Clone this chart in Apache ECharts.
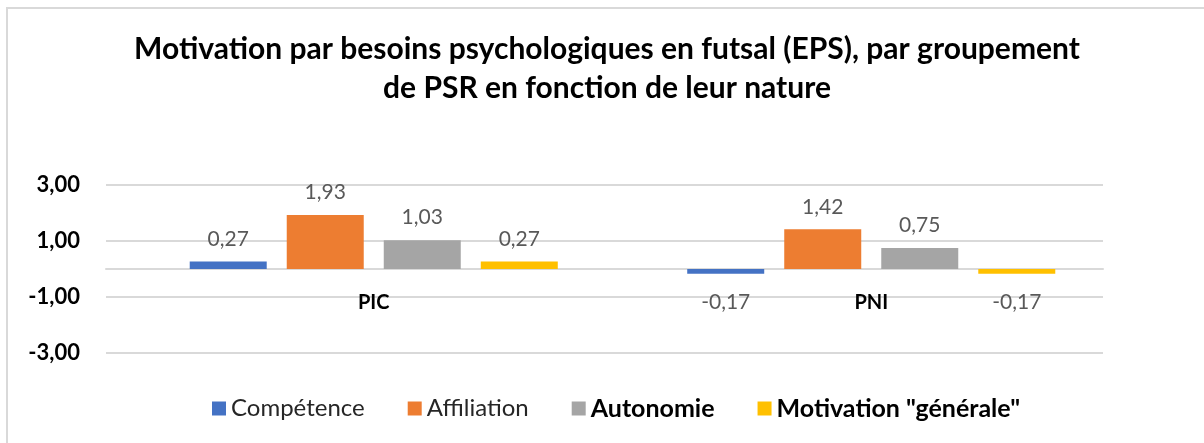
<!DOCTYPE html>
<html>
<head>
<meta charset="utf-8">
<script src="https://cdn.jsdelivr.net/npm/echarts@6/dist/echarts.min.js"></script>
<style>html,body{margin:0;padding:0;background:#fff}#c{width:1204px;height:443px}</style>
</head>
<body>
<div id="c"></div>
<script>
const titleText = 'Motivation par besoins psychologiques en futsal (EPS), par groupement\nde PSR en fonction de leur nature';
const categories = ['PIC', 'PNI'];
const seriesNames = ['Compétence', 'Affiliation', 'Autonomie', 'Motivation "générale"'];
const competence = [0.27, -0.17];
const affiliation = [1.93, 1.42];
const autonomie = [1.03, 0.75];
const motivationGenerale = [0.27, -0.17];
const yTicks = [-3, -1, 1, 3];
const colors = ['#4472C4', '#ED7D31', '#A5A5A5', '#FFC000'];
const boldLegend = ['Autonomie', 'Motivation "générale"'];

const FONT = 'Lato, "Open Sans", sans-serif';
const chart = echarts.init(document.getElementById('c'));
const allValues = [competence, affiliation, autonomie, motivationGenerale];

function fmt(v) { return v.toFixed(2).replace('.', ','); }

const series = allValues.map((vals, i) => ({
  name: seriesNames[i],
  type: 'bar',
  xAxisIndex: 1,
  yAxisIndex: 1,
  barWidth: 77,
  barGap: '26%',
  itemStyle: { color: colors[i] },
  data: vals.map(v => ({
    value: v,
    label: {
      show: true,
      position: v >= 0 ? 'top' : 'bottom',
      distance: v >= 0 ? 12 : 18,
      formatter: p => fmt(p.value),
      fontFamily: FONT,
      fontSize: 21,
      color: '#595959'
    }
  }))
}));

chart.setOption({
  animation: false,
  backgroundColor: '#fff',
  graphic: [
    {
      type: 'rect',
      shape: { x: 7, y: 8, width: 1300, height: 500 },
      style: { fill: 'none', stroke: '#d9d9d9', lineWidth: 2 },
      silent: true, z: -1
    },
    {
      type: 'text',
      x: 607, y: 30,
      style: {
        text: titleText,
        align: 'center',
        verticalAlign: 'top',
        fontFamily: FONT, fontWeight: 'bold', fontSize: 30, lineHeight: 39, fill: '#000'
      }
    }
  ],
  legend: {
    bottom: 17,
    left: 207,
    itemWidth: 14,
    itemHeight: 14,
    itemGap: 43,
    icon: 'rect',
    data: seriesNames,
    formatter: n => boldLegend.includes(n) ? '{b|' + n + '}' : '{r|' + n + '}',
    textStyle: {
      fontFamily: FONT, fontSize: 24, color: '#000',
      rich: {
        r: { fontFamily: FONT, fontSize: 24, color: '#262626' },
        b: { fontFamily: FONT, fontSize: 25, fontWeight: 'bold', color: '#000' }
      }
    }
  },
  grid: [
    { left: 106, right: 101, top: 185, height: 168 },
    { left: 125, right: 84, top: 185, height: 168 }
  ],
  xAxis: [
    {
      type: 'category', gridIndex: 0, data: [''],
      axisLine: { show: true, onZero: true, lineStyle: { color: '#d9d9d9', width: 2 } },
      axisTick: { show: false }, axisLabel: { show: false }
    },
    {
      type: 'category', gridIndex: 1, data: categories,
      position: 'bottom', offset: -84,
      axisLine: { show: false, onZero: false }, axisTick: { show: false },
      axisLabel: { fontFamily: FONT, fontWeight: 'bold', fontSize: 20, color: '#000', margin: 24 }
    }
  ],
  yAxis: [
    {
      type: 'value', gridIndex: 0, min: yTicks[0], max: yTicks[yTicks.length - 1], interval: 2,
      axisLine: { show: false }, axisTick: { show: false },
      splitLine: { lineStyle: { color: '#d9d9d9', width: 2 } },
      axisLabel: { fontFamily: FONT, fontWeight: 'bold', fontSize: 22, color: '#000', margin: 26, formatter: v => fmt(v) }
    },
    {
      type: 'value', gridIndex: 1, min: yTicks[0], max: yTicks[yTicks.length - 1], interval: 2,
      axisLine: { show: false }, axisTick: { show: false }, axisLabel: { show: false },
      splitLine: { show: false }
    }
  ],
  series: series
});
</script>
</body>
</html>
